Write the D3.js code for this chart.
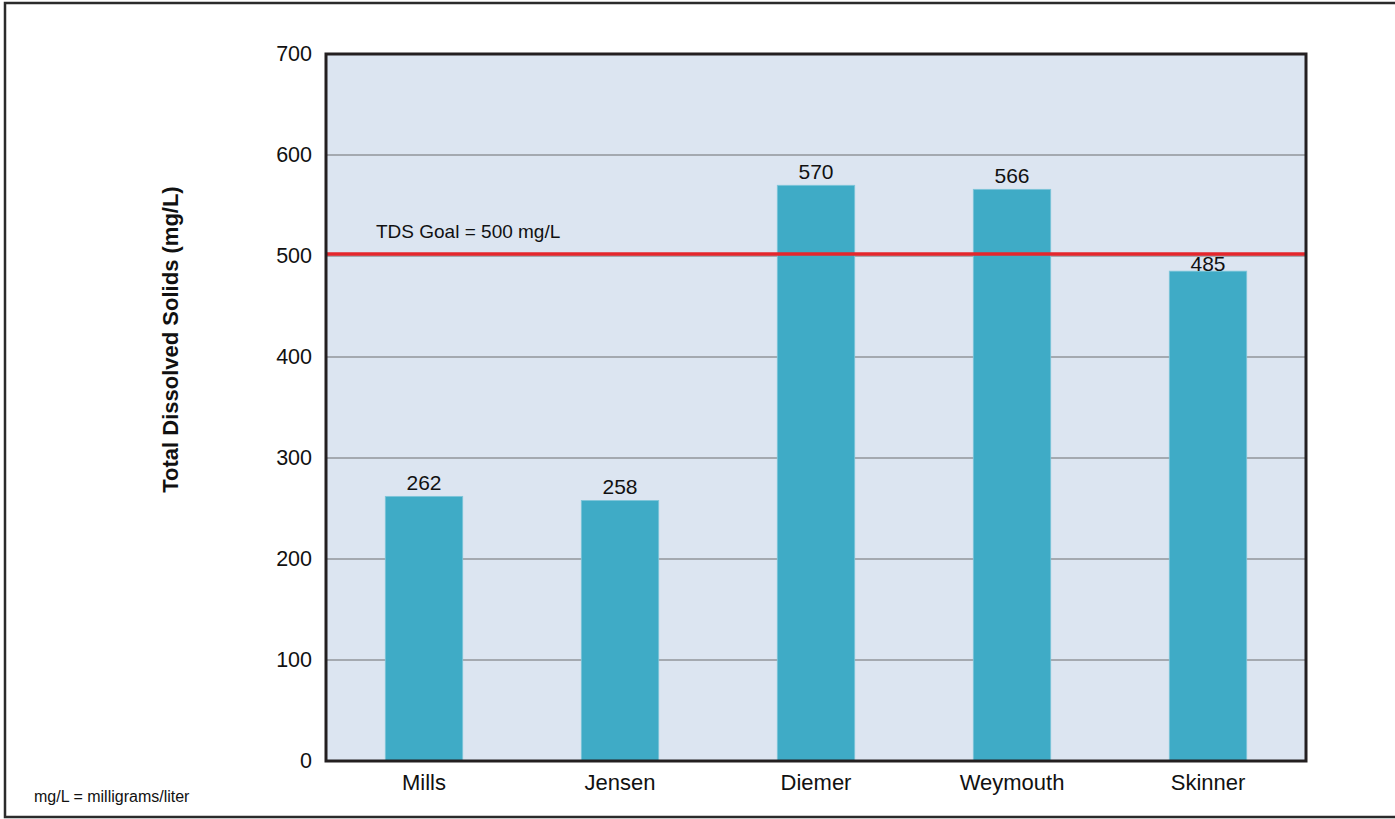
<!DOCTYPE html>
<html>
<head>
<meta charset="utf-8">
<script src="https://cdn.jsdelivr.net/npm/d3@7"></script>
<style>
  html, body { margin: 0; padding: 0; background: #fff; }
  svg { display: block; font-family: "Liberation Sans", Arial, Helvetica, sans-serif; }
</style>
</head>
<body>
<svg id="chart" width="1395" height="819"></svg>
<script>
const categories = ["Mills", "Jensen", "Diemer", "Weymouth", "Skinner"];
const values = [262, 258, 570, 566, 485];
const yTicks = [0, 100, 200, 300, 400, 500, 600, 700];
const goalValue = 500;
const goalLabel = "TDS Goal = 500 mg/L";
const yTitle = "Total Dissolved Solids (mg/L)";
const footnote = "mg/L = milligrams/liter";

const svg = d3.select("#chart");
const W = 1395, H = 819;
const plot = { left: 326, right: 1306, top: 54, bottom: 761 };

// outer frame (right edge cropped off in reference)
svg.append("rect")
  .attr("x", 5).attr("y", 3)
  .attr("width", W + 10).attr("height", 814)
  .attr("fill", "#fff").attr("stroke", "#2b2b2b").attr("stroke-width", 2.5);

const x = d3.scaleBand().domain(categories).range([plot.left, plot.right]).paddingInner(0.605).paddingOuter(0.3025);
const y = d3.scaleLinear().domain([0, 700]).range([plot.bottom, plot.top]);

// plot background
svg.append("rect")
  .attr("x", plot.left).attr("y", plot.top)
  .attr("width", plot.right - plot.left).attr("height", plot.bottom - plot.top)
  .attr("fill", "#dce5f1");

// gridlines
svg.append("g").selectAll("line")
  .data(yTicks.filter(t => t > 0 && t < 700))
  .join("line")
  .attr("x1", plot.left).attr("x2", plot.right)
  .attr("y1", d => y(d)).attr("y2", d => y(d))
  .attr("stroke", "#6d6e71").attr("stroke-width", 1.2);

// bars
svg.append("g").selectAll("rect")
  .data(values)
  .join("rect")
  .attr("x", (d, i) => x(categories[i]))
  .attr("width", x.bandwidth())
  .attr("y", d => y(d))
  .attr("height", d => y(0) - y(d))
  .attr("fill", "#3fabc6")
  .attr("stroke", "#7fc6da").attr("stroke-width", 0.8);

// goal line
svg.append("line")
  .attr("x1", plot.left).attr("x2", plot.right)
  .attr("y1", y(goalValue) - 2).attr("y2", y(goalValue) - 2)
  .attr("stroke", "#e5262c").attr("stroke-width", 3.5);

svg.append("text")
  .attr("x", plot.left + 50).attr("y", y(goalValue) - 18)
  .attr("font-size", 19).attr("fill", "#111")
  .text(goalLabel);

// value labels (pushed down when they would collide with the goal line)
const labelSize = 21;
svg.append("g").selectAll("text")
  .data(values)
  .join("text")
  .attr("x", (d, i) => x(categories[i]) + x.bandwidth() / 2)
  .attr("y", d => {
    const base = y(d) - 6;
    const collides = d < goalValue && base - labelSize * 0.72 < y(goalValue);
    return collides ? y(d) : base;
  })
  .attr("text-anchor", "middle")
  .attr("font-size", labelSize).attr("fill", "#111")
  .text(d => d);

// plot frame
svg.append("rect")
  .attr("x", plot.left).attr("y", plot.top)
  .attr("width", plot.right - plot.left).attr("height", plot.bottom - plot.top)
  .attr("fill", "none").attr("stroke", "#231f20").attr("stroke-width", 3);

// y axis
const yAxis = svg.append("g")
  .attr("transform", `translate(${plot.left},0)`)
  .call(d3.axisLeft(y).tickValues(yTicks).tickSize(0).tickPadding(14).tickFormat(d3.format("d")));
yAxis.select(".domain").remove();
yAxis.selectAll("text").attr("font-size", 21.5).attr("fill", "#111").attr("font-family", "Liberation Sans, Arial, sans-serif");

// x axis
const xAxis = svg.append("g")
  .attr("transform", `translate(0,${plot.bottom})`)
  .call(d3.axisBottom(x).tickSize(0).tickPadding(13));
xAxis.select(".domain").remove();
xAxis.selectAll("text").attr("font-size", 22).attr("fill", "#111").attr("font-family", "Liberation Sans, Arial, sans-serif");

// y title
svg.append("text")
  .attr("transform", `translate(178,${(plot.top + plot.bottom) / 2 - 68}) rotate(-90)`)
  .attr("text-anchor", "middle")
  .attr("font-size", 22).attr("font-weight", "bold").attr("fill", "#111")
  .text(yTitle);

// footnote
svg.append("text")
  .attr("x", 34).attr("y", 802)
  .attr("font-size", 16).attr("fill", "#111")
  .text(footnote);
</script>
</body>
</html>
